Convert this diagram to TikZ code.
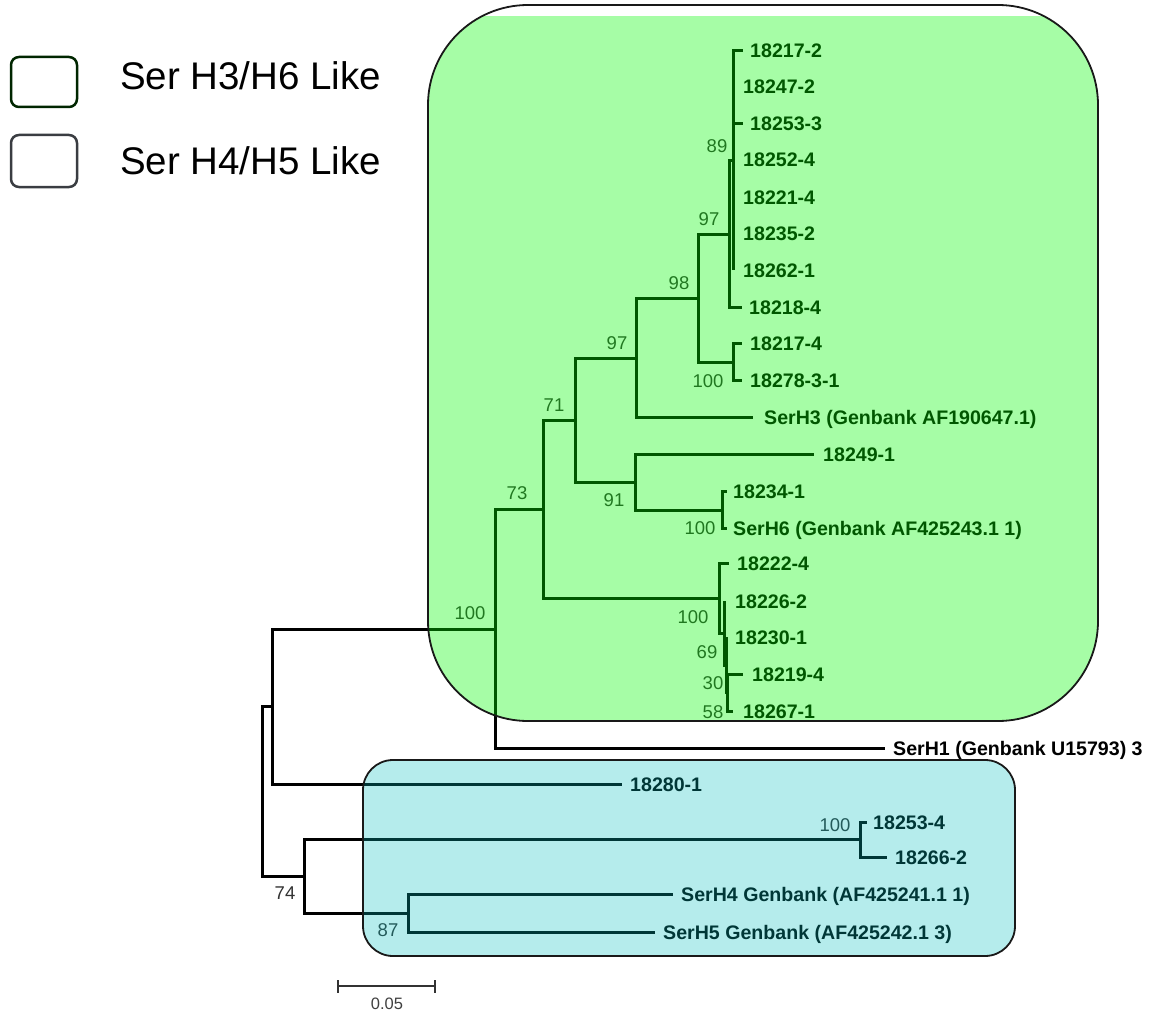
\documentclass[tikz,border=0pt]{standalone}
\usepackage{fontspec}
\setmainfont{Liberation Sans}
\definecolor{gov}{RGB}{0,250,0}
\definecolor{cov}{RGB}{0,190,190}
\definecolor{bootc}{RGB}{50,50,50}
\tikzset{
  br/.style={line width=3pt, line join=miter},
  leaf/.style={anchor=west, inner sep=0pt, text height=14pt, text depth=0pt,
    font=\fontsize{19.6}{22}\selectfont\bfseries},
  boot/.style={inner sep=0pt, text height=13.2pt, text depth=0pt,
    font=\fontsize{18.5}{21}\selectfont, text=bootc},
  legtext/.style={anchor=base west, inner sep=0pt, font=\fontsize{38.5}{44}\selectfont},
}
\begin{document}
\begin{tikzpicture}[x=1pt,y=-1pt]
\useasboundingbox (0,0) rectangle (1159,1014);
% internal nodes
\coordinate (D) at (733,160.5);
\coordinate (B) at (729,234);
\coordinate (C) at (733,362);
\coordinate (A) at (698,298);
\coordinate (E) at (636,358);
\coordinate (H) at (722,510);
\coordinate (G) at (635,482);
\coordinate (F) at (575,420);
\coordinate (N) at (727,692.5);
\coordinate (M) at (726,665);
\coordinate (L) at (724.5,633);
\coordinate (J) at (719,598);
\coordinate (I) at (543,509);
\coordinate (K) at (495,629);
\coordinate (P) at (272,706.5);
\coordinate (S) at (860,839.5);
\coordinate (T) at (408,913);
\coordinate (Q) at (304,876);
\coordinate (R) at (262,791);
% tips and labels
\foreach \i/\tx/\lx/\yy/\txt in {
  0/743/750/51/18217-2, 1/733/743/87/18247-2, 2/743/750/124/18253-3,
  3/733/743/160/18252-4, 4/733/743/197/18221-4, 5/733/743/233/18235-2,
  6/733/743/270/18262-1, 7/742/749/307/18218-4, 8/742/750/343/18217-4,
  9/742/750/380/18278-3-1, 10/753/764/417/{SerH3 (Genbank AF190647.1)},
  11/814/823/454/18249-1, 12/727/733/491/18234-1,
  13/727/733/528/{SerH6 (Genbank AF425243.1 1)}, 14/729/737/563/18222-4,
  15/724.5/735/601/18226-2, 16/726/735/637/18230-1, 17/743/752/674/18219-4,
  18/733/743/711/18267-1, 19/885/893/748/{SerH1 (Genbank U15793) 3},
  20/622/630/784/18280-1, 21/867/873/822/18253-4, 22/887/895/857/18266-2,
  23/673/681/894/{SerH4 Genbank (AF425241.1 1)}, 24/655/663/932/{SerH5 Genbank (AF425242.1 3)}}{
  \coordinate (t\i) at (\tx,\yy);
  \node[leaf] (n\i) at (\lx,\yy) {\txt};
}
% branches
\foreach \p/\c in {D/t0,D/t1,D/t2,D/t3,D/t4,D/t5,D/t6,B/D,B/t7,C/t8,C/t9,A/B,A/C,
  E/A,E/t10,H/t12,H/t13,G/t11,G/H,F/E,F/G,N/t17,N/t18,M/t16,M/N,L/t15,L/M,
  J/t14,J/L,I/F,I/J,K/I,K/t19,P/K,P/t20,S/t21,S/t22,T/t23,T/t24,Q/S,Q/T,R/P,R/Q}{
  \draw[br] (\p) |- (\c);
}
% bootstrap values
\foreach \bx/\by/\v/\nm in {717/146/89/bD, 709/219/97/bB, 679/283/98/bA, 708/381/100/bC,
  617/343/97/bE, 554/405/71/bF, 614/500/91/bG, 700/528/100/bH, 517/493/73/bI,
  693/617/100/bJ, 707/652/69/bL, 713/683/30/bM, 713/712/58/bN, 470/613/100/bK,
  285/893/74/bQ, 388/930/87/bT, 835/825/100/bS}{
  \node[boot] (\nm) at (\bx,\by) {\v};
}
% scale bar
\coordinate (sb1) at (338,986);
\coordinate (sb2) at (435,986);
\draw[line width=1.8pt, black!80] (sb1) -- (sb2)
  (338,980) -- (338,993) (435,980) -- (435,993);
\node[inner sep=0pt, text height=12pt, text depth=0pt, font=\fontsize{16.5}{19}\selectfont, text=black!75] (sbl) at (387,1003) {0.05};
% clade boxes (translucent overlays)
\begin{scope}
\clip (0,17) rectangle (1159,1014);
\fill[gov, fill opacity=0.35, rounded corners=100pt] (428,5) rectangle (1098,721);
\end{scope}
\draw[line width=1.8pt, black!90, rounded corners=100pt] (428,5) rectangle (1098,721);
\fill[cov, fill opacity=0.29, rounded corners=30pt] (363,760) rectangle (1015,956);
\draw[line width=1.8pt, black!90, rounded corners=30pt] (363,760) rectangle (1015,956);
% legend
\draw[line width=2.5pt, black!85!green, fill=white, rounded corners=8pt] (11,57) rectangle (77,107);
\draw[line width=2.5pt, black!85!cyan, fill=white, rounded corners=8pt] (11,135) rectangle (77,187);
\node[legtext] (lg1) at (120,90) {Ser H3/H6 Like};
\node[legtext] (lg2) at (120,174) {Ser H4/H5 Like};
\end{tikzpicture}
\end{document}
